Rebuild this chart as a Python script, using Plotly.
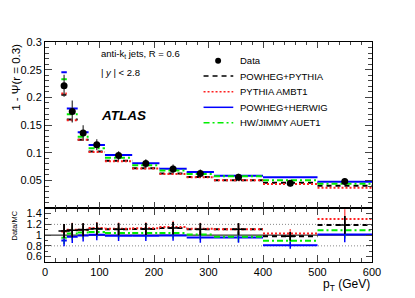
import plotly.graph_objects as go

# ---------------- data ----------------
bin_lo = [30, 40, 60, 80, 110, 160, 210, 260, 310, 400, 500]
bin_hi = [40, 60, 80, 110, 160, 210, 260, 310, 400, 500, 600]

data_val = [0.221, 0.1746, 0.1357, 0.1147, 0.095, 0.0806, 0.071, 0.0626, 0.0558, 0.0451, 0.0482]
data_err = [0.02, 0.02, 0.014, 0.01, 0.008, 0.0078, 0.0078, 0.0072, 0.0065, 0.0058, 0.0065]

powheg_pythia = [0.205, 0.160, 0.1234, 0.1024, 0.0856, 0.0723, 0.0628, 0.0564, 0.0503, 0.046, 0.0405]
pythia_ambt1 = [0.207, 0.1587, 0.1234, 0.1015, 0.0848, 0.0716, 0.0617, 0.0559, 0.0503, 0.0438, 0.0371]
powheg_herwig = [0.2456, 0.180, 0.137, 0.114, 0.096, 0.0814, 0.0714, 0.0655, 0.0584, 0.0557, 0.0477]
hw_jimmy = [0.2326, 0.1695, 0.1292, 0.1082, 0.0913, 0.0775, 0.0683, 0.062, 0.0575, 0.0504, 0.0442]

ratio_rel_err = [0.12, 0.12, 0.11, 0.1, 0.1, 0.1, 0.1, 0.1, 0.1, 0.08, 0.14]

x_ticks = [0, 100, 200, 300, 400, 500, 600]
y_ticks = [0.05, 0.1, 0.15, 0.2, 0.25, 0.3]
y_tick_text = ["0.05", "0.1", "0.15", "0.2", "0.25", "0.3"]
r_ticks = [0.6, 0.8, 1.0, 1.2, 1.4]
r_tick_text = ["0.6", "0.8", "1", "1.2", "1.4"]

series = [
    ("POWHEG+PYTHIA", powheg_pythia, "#000000", "5px,4px"),
    ("PYTHIA AMBT1", pythia_ambt1, "#ff2020", "2px,2px"),
    ("POWHEG+HERWIG", powheg_herwig, "#0000ff", "solid"),
    ("HW/JIMMY AUET1", hw_jimmy, "#00ee00", "6px,3px,2px,3px"),
]

centers = [(a + b) / 2 for a, b in zip(bin_lo, bin_hi)]
FONT = "Liberation Sans, Arial, sans-serif"

# ---------------- geometry ----------------
# page body has an 8px margin: figure origin sits at (8, 8) in the window
OFF = 8
W, H = 407, 290
ML, MR, MT, MB = 34, 43, 34, 36
PW = W - ML - MR
PH = H - MT - MB
SPLIT = 0.2444


def px_x(px):
    return (px - OFF - ML) / PW


def px_y(py):
    return 1 - (py - OFF - MT) / PH


def seg(vals):
    xs, ys = [], []
    for lo, hi, v in zip(bin_lo, bin_hi, vals):
        xs += [lo, hi, None]
        ys += [v, v, None]
    return xs, ys


fig = go.Figure()

# top panel MC bands
for name, vals, col, dash in series:
    xs, ys = seg(vals)
    fig.add_trace(go.Scatter(x=xs, y=ys, mode="lines", xaxis="x2", yaxis="y",
                             line=dict(color=col, dash=dash, width=2),
                             showlegend=False, hoverinfo="skip"))

# data
fig.add_trace(go.Scatter(x=centers, y=data_val, mode="markers", xaxis="x2", yaxis="y",
                         marker=dict(color="black", size=7, symbol="circle"),
                         error_y=dict(type="data", array=data_err, color="#333333",
                                      thickness=1.2, width=0),
                         showlegend=False))

# ratio panel
ratios = {}
for name, vals, col, dash in series:
    r = [d / m for d, m in zip(data_val, vals)]
    ratios[name] = r
    xs, ys = seg(r)
    fig.add_trace(go.Scatter(x=xs, y=ys, mode="lines", xaxis="x", yaxis="y2",
                             line=dict(color=col, dash=dash, width=2),
                             showlegend=False, hoverinfo="skip"))

for name, vals, col, dash in reversed(series):
    r = ratios[name]
    fig.add_trace(go.Scatter(x=centers, y=r, mode="markers", xaxis="x", yaxis="y2",
                             marker=dict(size=1, color="rgba(0,0,0,0)"),
                             error_y=dict(type="data", array=[v * e for v, e in zip(r, ratio_rel_err)],
                                          color=col if name != "PYTHIA AMBT1" else "#ff6060",
                                          thickness=1.5, width=0),
                             showlegend=False, hoverinfo="skip"))

r_black = ratios["POWHEG+PYTHIA"]
fig.add_trace(go.Scatter(x=centers, y=r_black, mode="markers", xaxis="x", yaxis="y2",
                         marker=dict(symbol="line-ew", size=8, color="black",
                                     line=dict(color="black", width=1.5)),
                         error_y=dict(type="data", array=[v * e for v, e in zip(r_black, ratio_rel_err)],
                                      color="black", thickness=1.5, width=0),
                         showlegend=False))

# ---------------- axes ----------------
common = dict(showline=True, linecolor="black", linewidth=1, mirror="allticks",
              ticks="inside", showgrid=False, zeroline=False,
              tickfont=dict(family=FONT, size=11, color="black"))

fig.update_layout(
    width=W, height=H,
    margin=dict(l=ML, r=MR, t=MT, b=MB),
    paper_bgcolor="white", plot_bgcolor="white",
    xaxis=dict(domain=[0, 1], range=[0, 600], anchor="y2", tickvals=x_ticks,
               ticklen=7, minor=dict(dtick=20, ticklen=4, ticks="inside"), **common),
    xaxis2=dict(domain=[0, 1], range=[0, 600], anchor="y", matches="x", tickvals=x_ticks,
                showticklabels=False, ticklen=6,
                minor=dict(dtick=20, ticklen=3, ticks="inside"), **common),
    yaxis=dict(domain=[SPLIT, 1], range=[0, 0.3], anchor="x2", tickvals=y_ticks,
               ticktext=y_tick_text, ticklen=7,
               minor=dict(dtick=0.01, ticklen=4, ticks="inside"), **common),
    yaxis2=dict(domain=[0, SPLIT], range=[0.5, 1.5], anchor="x", tickvals=r_ticks,
                ticktext=r_tick_text, ticklen=6,
                minor=dict(dtick=0.1, ticklen=3, ticks="inside"), **common),
    showlegend=False,
)

# reference lines in ratio panel
fig.add_shape(type="line", xref="x", yref="y2", x0=0, x1=600, y0=1, y1=1,
              line=dict(color="black", width=1), layer="below")
for yv in (0.8, 1.2):
    fig.add_shape(type="line", xref="x", yref="y2", x0=0, x1=600, y0=yv, y1=yv,
                  line=dict(color="#888888", width=1, dash="1px,2px"), layer="below")

# ---------------- text ----------------
ann = []
ann.append(dict(text="1 - Ψ(r = 0.3)", xref="paper", yref="paper", x=px_x(12), y=1,
                xanchor="center", yanchor="top", textangle=-90, showarrow=False,
                font=dict(family=FONT, size=11.5, color="black")))
ann.append(dict(text="Data/MC", xref="paper", yref="paper", x=px_x(11), y=SPLIT,
                xanchor="center", yanchor="top", textangle=-90, showarrow=False,
                font=dict(family=FONT, size=7.5, color="black")))
ann.append(dict(text="p<sub>T</sub> (GeV)", xref="paper", yref="paper", x=1, y=px_y(285),
                xanchor="right", yanchor="middle", showarrow=False,
                font=dict(family=FONT, size=12, color="black")))
ann.append(dict(text="anti-k<sub>t</sub> jets, R = 0.6", xref="paper", yref="paper",
                x=px_x(96), y=px_y(54.5), xanchor="left", yanchor="middle", showarrow=False,
                font=dict(family=FONT, size=9.5, color="black")))
ann.append(dict(text="| <i>y</i> | &lt; 2.8", xref="paper", yref="paper",
                x=px_x(96), y=px_y(72), xanchor="left", yanchor="middle", showarrow=False,
                font=dict(family=FONT, size=9.5, color="black")))
ann.append(dict(text="<b><i>ATLAS</i></b>", xref="paper", yref="paper",
                x=px_x(96), y=px_y(115), xanchor="left", yanchor="middle", showarrow=False,
                font=dict(family=FONT, size=13.5, color="black")))

# manual legend
leg_rows = [60.7, 76, 91.7, 107.3, 122.7]
leg_names = ["Data"] + [s[0] for s in series]
for i, (py, nm) in enumerate(zip(leg_rows, leg_names)):
    ann.append(dict(text=nm, xref="paper", yref="paper", x=px_x(237), y=px_y(py),
                    xanchor="left", yanchor="middle", showarrow=False,
                    font=dict(family=FONT, size=9.5, color="black")))
    if i == 0:
        r = 3
        fig.add_shape(type="circle", xref="paper", yref="paper",
                      x0=px_x(216.7 - r), x1=px_x(216.7 + r),
                      y0=px_y(py + r), y1=px_y(py - r),
                      fillcolor="black", line=dict(color="black", width=0))
    else:
        _, _, col, dash = series[i - 1]
        fig.add_shape(type="line", xref="paper", yref="paper",
                      x0=px_x(202), x1=px_x(232), y0=px_y(py), y1=px_y(py),
                      line=dict(color=col, dash=dash, width=1.5))

fig.update_layout(annotations=ann)
fig.write_html("out.html")
